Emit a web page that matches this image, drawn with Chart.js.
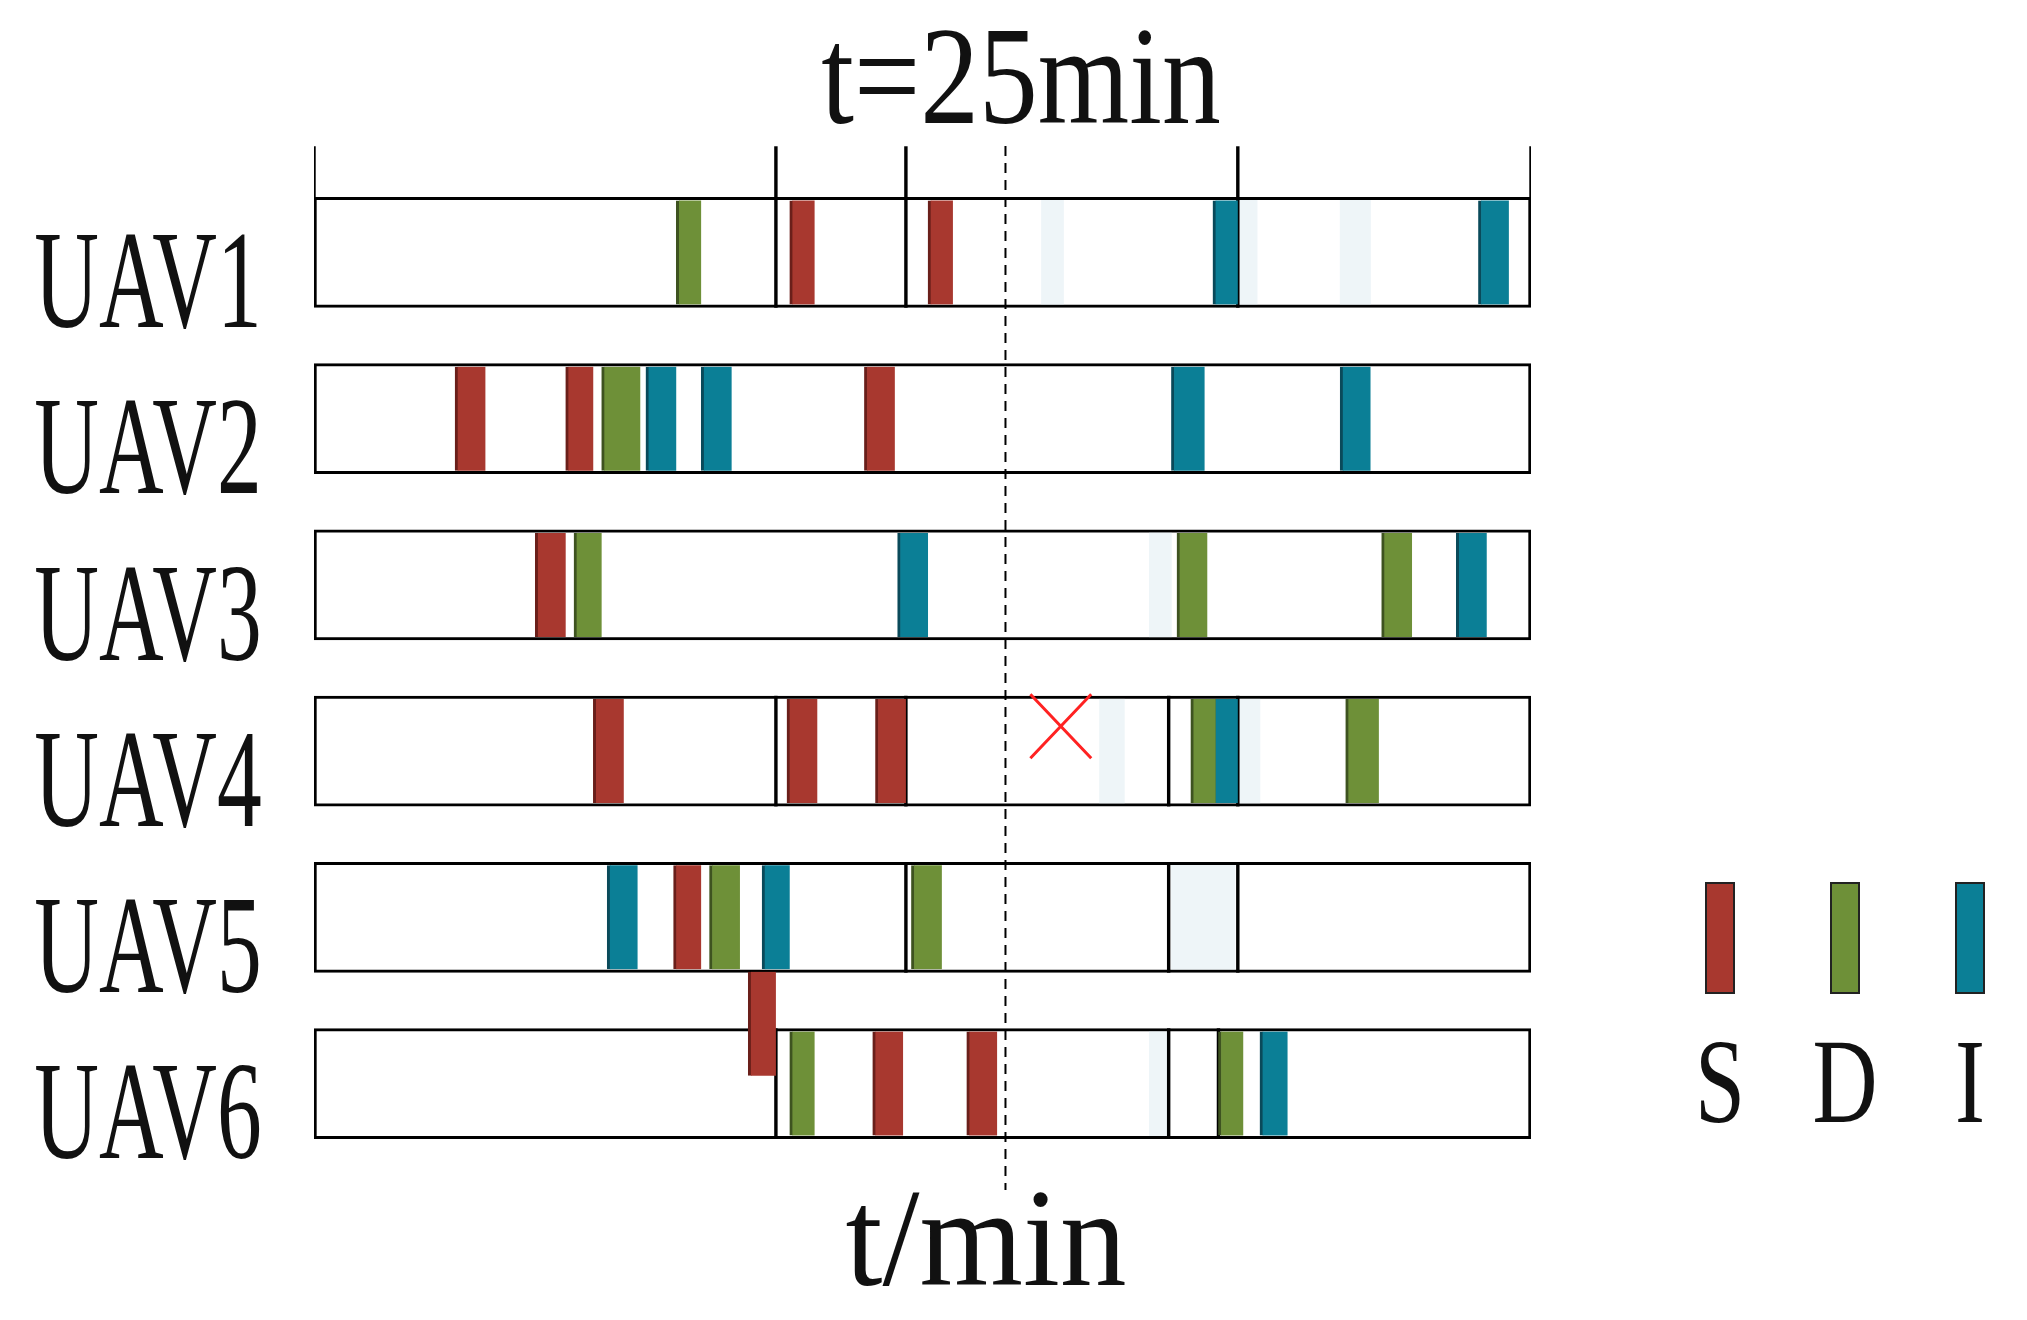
<!DOCTYPE html><html><head><meta charset="utf-8">
<script src="https://cdn.jsdelivr.net/npm/chart.js@4/dist/chart.umd.min.js"></script>
<style>html,body{margin:0;background:#fff}#w{width:2027px;height:1320px}</style></head><body><div id="w"><canvas id="c"></canvas></div>
<script>
const rows=['UAV1','UAV2','UAV3','UAV4','UAV5','UAV6'];
const tMax=44, tNow=25;
const redS=[[0,17.2,18.1],[0,22.2,23.1],[1,5.1,6.2],[1,9.1,10.1],[1,19.9,21.0],[2,8.0,9.1],[3,10.1,11.2],[3,17.1,18.2],[3,20.3,21.4],[4,13.0,14.0],[4.64,15.7,16.7],[5,20.2,21.3],[5,23.6,24.7]];
const greenD=[[0,13.1,14.0],[1,10.4,11.8],[2,9.4,10.4],[2,31.2,32.3],[2,38.6,39.7],[3,31.7,32.6],[3,37.3,38.5],[4,14.3,15.4],[4,21.6,22.7],[5,17.2,18.1],[5,32.7,33.6]];
const blueI=[[0,32.5,33.4],[0,42.1,43.2],[1,12.0,13.1],[1,14.0,15.1],[1,31.0,32.2],[1,37.1,38.2],[2,21.1,22.2],[2,41.3,42.4],[3,32.5,33.4],[4,10.6,11.7],[4,16.2,17.2],[5,34.2,35.2]];
const faded=[[0,26.3,27.1],[0,33.4,34.1],[0,37.1,38.2],[2,30.2,31.0],[3,28.4,29.3],[3,33.4,34.2],[4,31.0,33.3],[5,30.2,30.9]];
const dividers=[[0,16.7],[0,21.4],[0,33.4],[3,16.7],[3,21.4],[3,30.9],[3,33.4],[4,21.4],[4,30.9],[4,33.4],[5,16.7],[5,30.9],[5,32.7]];
const headerTicks=[0,16.7,21.4,33.4,44];
const failMark={t:27.0,row:2.85};
const toPts=a=>a.map(([r,s,e])=>({y:r,x:[s,e]}));
const RH=110;
const ds=[
 {data:rows.map((_,i)=>({y:i,x:[0,tMax]})),backgroundColor:'#fff',borderColor:'#000',borderWidth:3,barThickness:RH,borderSkipped:false,order:6},
 {data:toPts(faded),backgroundColor:'rgba(205,225,235,0.35)',barThickness:RH-6,order:5},
 {data:dividers.map(([r,t])=>({y:r,x:[t-0.05,t+0.05]})),backgroundColor:'#000',barThickness:RH,order:4},
 {data:toPts(redS),backgroundColor:'#a8382f',borderColor:'#6a1f1a',borderWidth:{left:3,right:0,top:0,bottom:0},borderSkipped:false,barThickness:RH-6,order:1},
 {data:toPts(greenD),backgroundColor:'#6e9038',borderColor:'#3e5320',borderWidth:{left:3,right:0,top:0,bottom:0},borderSkipped:false,barThickness:RH-6,order:1},
 {data:toPts(blueI),backgroundColor:'#0b7f96',borderColor:'#0a4a5a',borderWidth:{left:3,right:0,top:0,bottom:0},borderSkipped:false,barThickness:RH-6,order:1},
 {data:headerTicks.map(t=>({y:-0.48,x:[t-0.05,t+0.05]})),backgroundColor:'#000',barThickness:52,order:3}
];
const deco={id:'deco',afterDatasetsDraw(ch){
 const c=ch.ctx,x=ch.scales.x,y=ch.scales.y;
 c.save();
 c.strokeStyle='#000';c.lineWidth=2;c.setLineDash([10,7]);
 const xp=x.getPixelForValue(tNow);c.beginPath();c.moveTo(xp,y.getPixelForValue(-0.64));c.lineTo(xp,y.getPixelForValue(5.64));c.stroke();
 c.setLineDash([]);
 c.strokeStyle='#f22';c.lineWidth=3;
 const fx=x.getPixelForValue(failMark.t),fy=y.getPixelForValue(failMark.row),dx=x.getPixelForValue(1.1)-x.getPixelForValue(0),dy=32;
 c.beginPath();c.moveTo(fx-dx,fy-dy);c.lineTo(fx+dx,fy+dy);c.moveTo(fx+dx,fy-dy);c.lineTo(fx-dx,fy+dy);c.stroke();
 const txt=(s,cx,cy,sz,sx)=>{c.save();c.translate(cx,cy);c.scale(sx,1);c.fillStyle='#111';c.font=sz+'px "Liberation Serif"';c.textAlign='center';c.textBaseline='middle';c.fillText(s,0,0);c.restore();};
 rows.forEach((r,i)=>txt(r,148,y.getPixelForValue(i)+38,140,0.64));
 txt('t=25min',1021,86,140,0.84);
 txt('t/min',986,1248,140,0.95);
 const leg=[['S','#a8382f',1720],['D','#6e9038',1845],['I','#0b7f96',1970]];
 leg.forEach(([l,col,cx])=>{c.fillStyle=col;c.fillRect(cx-14,883,28,110);c.strokeStyle='#222';c.lineWidth=2;c.strokeRect(cx-14,883,28,110);txt(l,cx,1090,120,0.75);});
 c.restore();}};
new Chart(document.getElementById('c'),{type:'bar',data:{datasets:ds},plugins:[deco],
options:{indexAxis:'y',responsive:true,maintainAspectRatio:false,animation:false,
 layout:{padding:{top:146,bottom:130,left:314,right:496}},
 plugins:{legend:{display:false},tooltip:{enabled:false}},
 datasets:{bar:{grouped:false}},
 scales:{x:{type:'linear',min:0,max:tMax,display:false,offset:false},y:{type:'linear',min:-0.64,max:5.64,reverse:true,display:false,offset:false}}}});
</script></body></html>
